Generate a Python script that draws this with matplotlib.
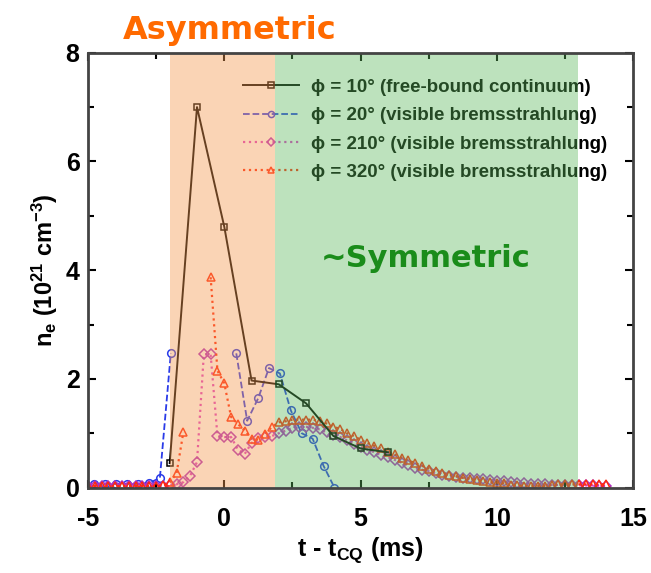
import matplotlib
matplotlib.use('Agg')
import matplotlib.pyplot as plt
from matplotlib.ticker import MultipleLocator
import numpy as np

plt.rcParams['font.family'] = ['Liberation Sans', 'DejaVu Sans']
plt.rcParams['font.weight'] = 'bold'
plt.rcParams['axes.labelweight'] = 'bold'
plt.rcParams['axes.unicode_minus'] = False
plt.rcParams['mathtext.fontset'] = 'custom'
plt.rcParams['mathtext.rm'] = 'Liberation Sans:bold'
plt.rcParams['mathtext.bf'] = 'Liberation Sans:bold'
plt.rcParams['mathtext.default'] = 'bf'

nan = np.nan

# phi = 10 deg, free-bound continuum (1 ms sampling)
t_fb = [-2, -1, 0, 1, 2, 3, 4, 5, 6]
ne_fb = [0.45, 7.0, 4.8, 1.97, 1.9, 1.55, 0.95, 0.72, 0.65]

# phi = 20 deg, visible bremsstrahlung (0.4 ms sampling, gap near t = 0)
t_20 = [-4.76, -4.36, -3.96, -3.56, -3.16, -2.76, -2.36, -1.96, -1.56, -1.16,
        -0.76, -0.36, 0.04, 0.44, 0.84, 1.24, 1.64, 2.04, 2.44, 2.84, 3.24,
        3.64, 4.04]
ne_20 = [0.07, 0.07, 0.07, 0.07, 0.07, 0.08, 0.18, 2.47, nan, nan,
         nan, nan, nan, 2.47, 1.23, 1.64, 2.2, 2.1, 1.42, 1.0, 0.9,
         0.4, 0.0]

# phi = 210 and 320 deg, visible bremsstrahlung (0.25 ms sampling)
t_brems = [-5.0, -4.75, -4.5, -4.25, -4.0, -3.75, -3.5, -3.25, -3.0, -2.75,
           -2.5, -2.25, -2.0, -1.75, -1.5, -1.25, -1.0, -0.75, -0.5, -0.25,
           0.0, 0.25, 0.5, 0.75, 1.0, 1.25, 1.5, 1.75, 2.0, 2.25,
           2.5, 2.75, 3.0, 3.25, 3.5, 3.75, 4.0, 4.25, 4.5, 4.75,
           5.0, 5.25, 5.5, 5.75, 6.0, 6.25, 6.5, 6.75, 7.0, 7.25,
           7.5, 7.75, 8.0, 8.25, 8.5, 8.75, 9.0, 9.25, 9.5, 9.75,
           10.0, 10.25, 10.5, 10.75, 11.0, 11.25, 11.5, 11.75, 12.0, 12.25,
           12.5, 12.75, 13.0, 13.25, 13.5, 13.75, 14.0]
ne_210 = [0.03, 0.03, 0.03, 0.03, 0.03, 0.03, 0.03, 0.03, 0.03, 0.03,
          0.03, 0.03, 0.04, 0.06, 0.1, 0.22, 0.47, 2.45, 2.45, 0.95,
          0.93, 0.93, 0.7, 0.62, 0.82, 0.92, 0.93, 0.95, 1.0, 1.05,
          1.1, 1.12, 1.12, 1.1, 1.07, 1.02, 0.97, 0.93, 0.87, 0.81,
          0.75, 0.7, 0.65, 0.6, 0.56, 0.51, 0.46, 0.41, 0.37, 0.33,
          0.3, 0.26, 0.23, 0.21, 0.2, 0.18, 0.17, 0.16, 0.15, 0.14,
          0.13, 0.12, 0.1, 0.09, 0.08, 0.075, 0.07, 0.06, 0.05, 0.05,
          0.045, 0.045, 0.04, 0.04, 0.04, 0.035, 0.03]
ne_320 = [0.03, 0.03, 0.03, 0.03, 0.03, 0.03, 0.03, 0.03, 0.03, 0.03,
          0.03, 0.04, 0.1, 0.26, 1.02, nan, nan, nan, 3.87, 2.15,
          1.92, 1.3, 1.17, 1.05, 0.9, 0.88, 0.98, 1.12, 1.2, 1.22,
          1.25, 1.25, 1.25, 1.25, 1.22, 1.18, 1.12, 1.08, 1.0, 0.95,
          0.88, 0.82, 0.77, 0.72, 0.66, 0.61, 0.55, 0.5, 0.45, 0.4,
          0.35, 0.31, 0.27, 0.24, 0.21, 0.18, 0.16, 0.14, 0.12, 0.1,
          0.09, 0.08, 0.05, 0.04, 0.03, 0.03, 0.03, 0.03, 0.04, 0.06,
          0.06, 0.06, 0.06, 0.06, 0.06, 0.06, 0.06]

labels = ['ϕ = 10° (free-bound continuum)',
          'ϕ = 20° (visible bremsstrahlung)',
          'ϕ = 210° (visible bremsstrahlung)',
          'ϕ = 320° (visible bremsstrahlung)']

fig = plt.figure(figsize=(6.51, 5.73), dpi=100)
ax = fig.add_axes([0.135, 0.149, 0.838, 0.759])

ax.plot(t_fb, ne_fb, '-', color='black', lw=1.4, marker='s', ms=5,
        mfc='none', mew=1.1, label=labels[0], zorder=4)
ax.plot(t_20, ne_20, '--', color='#2a3be8', lw=1.3, marker='o', ms=5.5,
        mfc='none', mew=1.1, label=labels[1], zorder=3)
ax.plot(t_brems, ne_210, ':', color='#e040c8', lw=1.6, marker='D', ms=5,
        mfc='none', mew=1.1, mec='#b030c0', label=labels[2], zorder=3)
ax.plot(t_brems, ne_320, ':', color='#ff2a10', lw=1.6, marker='^', ms=6,
        mfc='none', mew=1.1, label=labels[3], zorder=3)

leg = ax.legend(loc='upper right', bbox_to_anchor=(0.951, 0.94), frameon=False,
                prop={'size': 13.5, 'weight': 'bold'}, handlelength=3.0,
                handletextpad=0.6, labelspacing=0.6, borderaxespad=0,
                borderpad=0, markerscale=0.8)
leg.set_zorder(5)

# shaded phases drawn on top with transparency
ax.axvspan(-2.0, 1.85, color='#f59a50', alpha=0.42, lw=0, zorder=6)
ax.axvspan(1.85, 12.97, color='#5cb85c', alpha=0.4, lw=0, zorder=6)

ax.text(7.4, 4.22, '~Symmetric', color='#1a8c1a', fontsize=22,
        fontweight='bold', family=['DejaVu Sans'], ha='center', va='center',
        zorder=10)
fig.text(0.353, 0.946, 'Asymmetric', color='#ff6a00', fontsize=23,
         fontweight='bold', family=['DejaVu Sans'], ha='center', va='center')

ax.set_xlim(-5, 15)
ax.set_ylim(0, 8)
ax.xaxis.set_major_locator(MultipleLocator(5))
ax.xaxis.set_minor_locator(MultipleLocator(2.5))
ax.yaxis.set_major_locator(MultipleLocator(2))
ax.yaxis.set_minor_locator(MultipleLocator(1))
ax.tick_params(which='both', direction='in', top=True, right=True,
               labelsize=18, width=1.5)
ax.tick_params(which='major', length=6)
ax.tick_params(which='minor', length=4)
ax.tick_params(axis='x', pad=14)
ax.tick_params(axis='y', pad=6)
for s in ax.spines.values():
    s.set_linewidth(2)
    s.set_color('#444444')
    s.set_zorder(12)

ax.set_xlabel('t - t$_{CQ}$ (ms)', fontsize=18, fontweight='bold', labelpad=3)
ax.set_ylabel('n$_e$ (10$^{21}$ cm$^{-3}$)', fontsize=17, fontweight='bold',
              labelpad=4)

fig.savefig('out.png', dpi=100)
